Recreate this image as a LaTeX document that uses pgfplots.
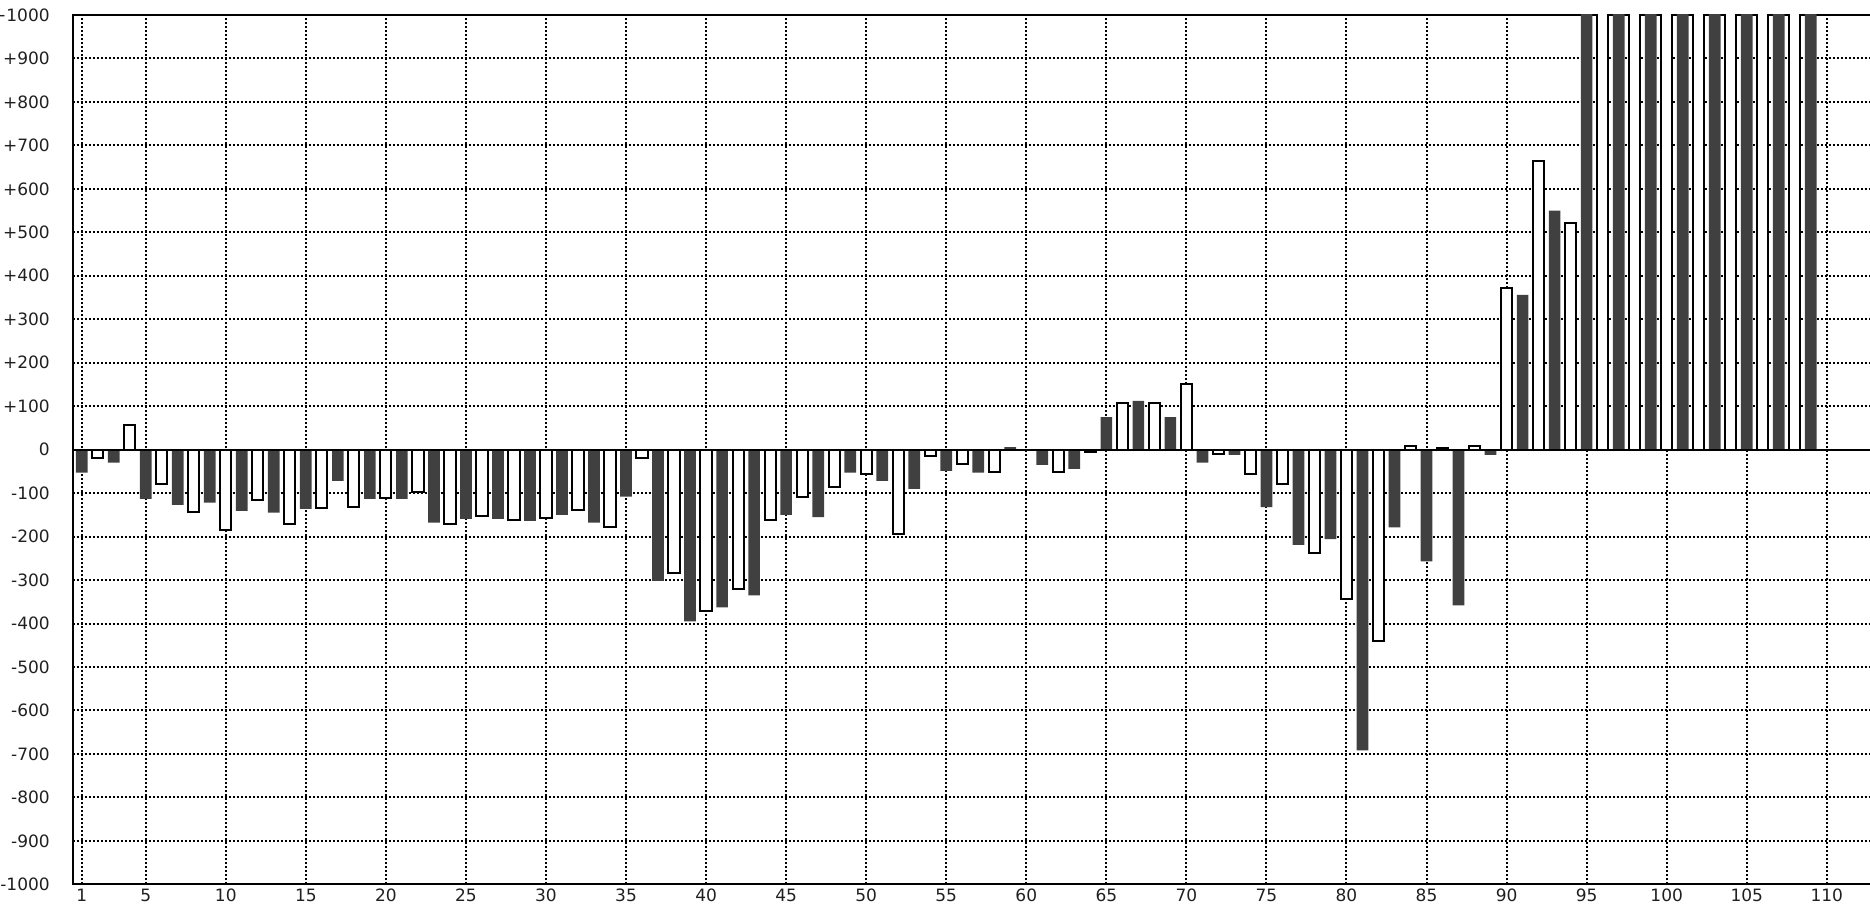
\documentclass[border=0pt]{standalone}
\usepackage{pgfplots}
\pgfplotsset{compat=1.18}
\usepackage{fontspec}
\setmainfont{DejaVu Sans}
\definecolor{barDark}{HTML}{404040}
\definecolor{lbl}{HTML}{202020}
\begin{document}
\begin{tikzpicture}
\begin{axis}[
  scale only axis,
  width=899.25pt, height=434.65pt,
  xmin=0.438, xmax=112.775,
  ymin=-1000, ymax=1000,
  ybar,
  axis line style={black, line width=1pt},
  xtick={1,5,10,15,20,25,30,35,40,45,50,55,60,65,70,75,80,85,90,95,100,105,110},
  ytick={-1000,-900,-800,-700,-600,-500,-400,-300,-200,-100,0,100,200,300,400,500,600,700,800,900,1000},
  yticklabels={-1000,-900,-800,-700,-600,-500,-400,-300,-200,-100,0,+100,+200,+300,+400,+500,+600,+700,+800,+900,+1000},
  major tick length=0pt,
  grid=major,
  major grid style={black, line width=1pt, dash pattern=on 1pt off 1pt},
  tick label style={font=\fontsize{8.5pt}{9pt}\selectfont, text=lbl},
  /pgf/number format/assume math mode=true,
  yticklabel style={anchor=east, inner sep=0pt, xshift=-11.3pt},
  xticklabel style={anchor=north, inner sep=0pt, yshift=-2pt},
]
% dark bars (odd positions)
\addplot[fill=barDark, draw=none, bar width=0.73, bar shift=0pt] coordinates {
(1,-53) (3,-30) (5,-113) (7,-127) (9,-122) (11,-141) (13,-145) (15,-136) (17,-72) (19,-113)
(21,-113) (23,-168) (25,-159) (27,-159) (29,-164) (31,-150) (33,-168) (35,-108) (37,-302) (39,-395)
(41,-363) (43,-335) (45,-150) (47,-155) (49,-53) (51,-72) (53,-90) (55,-49) (57,-53) (59,6)
(61,-35) (63,-44) (65,75) (67,112) (69,75) (71,-30) (73,-12) (75,-132) (77,-219) (79,-206)
(81,-692) (83,-179) (85,-257) (87,-358) (89,-12) (91,356) (93,550) (95,1500) (97,1500) (99,1500)
(101,1500) (103,1500) (105,1500) (107,1500) (109,1500)
};
% white bars (even positions)
\addplot[fill=white, draw=black, line width=1pt, bar width=0.70, bar shift=0pt] coordinates {
(2,-20) (4,56) (6,-80) (8,-144) (10,-186) (12,-116) (14,-172) (16,-135) (18,-131) (20,-112)
(22,-98) (24,-172) (26,-153) (28,-162) (30,-158) (32,-139) (34,-177) (36,-20) (38,-283) (40,-371)
(42,-320) (44,-163) (46,-108) (48,-85) (50,-57) (52,-195) (54,-15) (56,-34) (58,-52)
(62,-52) (64,-6) (66,107) (68,107) (70,152) (72,-11) (74,-57) (76,-80) (78,-238) (80,-343)
(82,-441) (84,9) (86,4) (88,9) (90,373) (92,664) (94,521) (96,1500) (98,1500) (100,1500)
(102,1500) (104,1500) (106,1500) (108,1500)
};
\draw[black, line width=1pt] (axis cs:0.438,0) -- (axis cs:112.775,0);
\end{axis}
\pgfresetboundingbox
\path[use as bounding box] ([xshift=-36.35pt,yshift=-9.85pt]current axis.south west) rectangle ([xshift=-0.6pt,yshift=7.5pt]current axis.north east);
\end{tikzpicture}
\end{document}
